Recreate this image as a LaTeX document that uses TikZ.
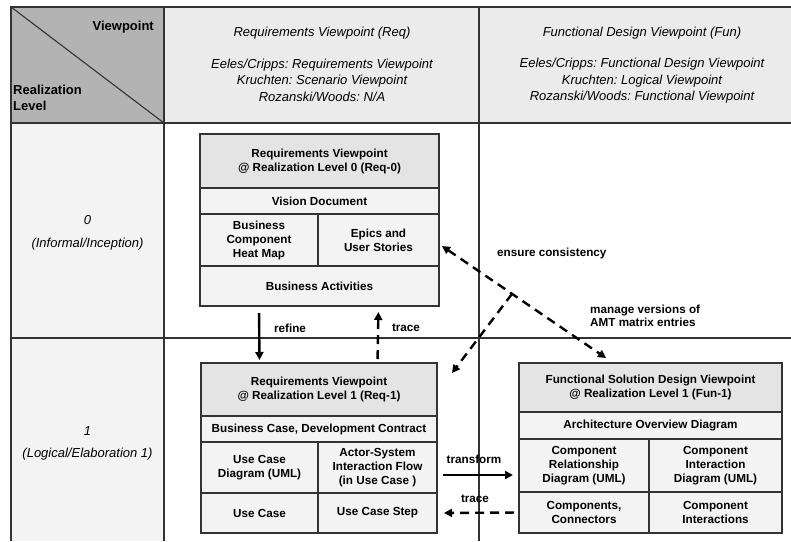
\documentclass[tikz,border=0pt]{standalone}
\usepackage{fontspec}
\setmainfont{Liberation Sans}
\usetikzlibrary{arrows.meta,calc}
\definecolor{linec}{HTML}{333333}
\definecolor{hdrdark}{HTML}{B3B3B3}
\definecolor{hdrlight}{HTML}{EBEBEB}
\definecolor{rowlbl}{HTML}{F3F3F3}
\definecolor{cellfill}{HTML}{F3F3F3}
\definecolor{titlefill}{HTML}{E4E4E4}
\newcommand\boxcell[7][]{%
  \node[cellbox,#1,minimum width={(#5-#3)*1pt},minimum height={(#6-#4)*1pt}]
    (#2) at ({(#3+#5)/2},{(#4+#6)/2}) {#7};}
\tikzset{
  cellbox/.style={draw=linec,line width=1.2pt,fill=cellfill,inner sep=0pt,outer sep=0pt,
    align=center,font=\frenchspacing\bfseries\fontsize{11.7}{14}\selectfont},
  titlecell/.style={fill=titlefill},
  grid/.style={draw=linec,line width=1.4pt},
  hdrtxt/.style={align=center,font=\frenchspacing\itshape\fontsize{13}{16.5}\selectfont,inner sep=0pt},
  hdrbold/.style={font=\bfseries\fontsize{13}{16.5}\selectfont,inner sep=0pt},
  lbl/.style={font=\bfseries\fontsize{11.7}{13.5}\selectfont,inner sep=0pt,align=left},
  tip/.style={-{Triangle[length=8pt,width=8pt]}},
  solidarrow/.style={line width=2.4pt,tip},
  dasharrow/.style={line width=2.4pt,dash pattern=on 9pt off 6pt,tip},
}
\begin{document}
\begin{tikzpicture}[x=1pt,y=-1pt]
\useasboundingbox (0,0) rectangle (791,541);
% table backgrounds
\fill[hdrdark] (11,7) rectangle (164,123);
\fill[hdrlight] (164,7) rectangle (791,123);
\fill[rowlbl] (11,123) rectangle (164,541);
\draw[linec,line width=1.1pt] (11,7) -- (164,123);
\draw[grid] (791,7) -- (11,7) -- (11,541);
\draw[grid] (11,123) -- (791,123);
\draw[grid] (11,338) -- (791,338);
\draw[grid] (164,7) -- (164,541);
\draw[grid] (479,7) -- (479,541);
% header texts
\node[hdrbold,anchor=east] (vp) at (154,27) {Viewpoint};
\node[hdrbold,anchor=west,align=left] (rl) at (13,98) {Realization\\Level};
\node[hdrtxt] (hreq1) at (322,33) {Requirements Viewpoint (Req)};
\node[hdrtxt] (hreq2) at (322,80) {Eeles/Cripps: Requirements Viewpoint\\Kruchten: Scenario Viewpoint\\Rozanski/Woods: N/A};
\node[hdrtxt] (hfun1) at (642,33) {Functional Design Viewpoint (Fun)};
\node[hdrtxt] (hfun2) at (642,81) {Eeles/Cripps: Functional Design Viewpoint\\Kruchten: Logical Viewpoint\\Rozanski/Woods: Functional Viewpoint};
\node[hdrtxt] (r0a) at (87.5,220) {0};
\node[hdrtxt] (r0b) at (87.5,244) {(Informal/Inception)};
\node[hdrtxt] (r1a) at (87.5,431) {1};
\node[hdrtxt] (r1b) at (87.5,454) {(Logical/Elaboration 1)};
% Req-0
\boxcell[titlecell]{t0}{200}{134}{439}{188}{Requirements Viewpoint\\@ Realization Level 0 (Req-0)}
\boxcell{vis}{200}{188}{439}{214}{Vision Document}
\boxcell{bchm}{200}{214}{318}{266}{Business\\Component\\Heat Map}
\boxcell{epics}{318}{214}{439}{266}{Epics and\\User Stories}
\boxcell{bact}{200}{266}{439}{306}{Business Activities}
% Req-1
\boxcell[titlecell]{t1}{201}{363}{437}{416}{Requirements Viewpoint\\@ Realization Level 1 (Req-1)}
\boxcell{bc}{201}{416}{437}{442}{Business Case, Development Contract}
\boxcell{ucd}{201}{442}{318}{493}{Use Case\\Diagram (UML)}
\boxcell{asif}{318}{442}{437}{493}{Actor-System\\Interaction Flow\\(in Use Case )}
\boxcell{uc}{201}{493}{318}{533}{Use Case}
\boxcell{ucs}{318}{493}{437}{533}{Use Case Step}
% Fun-1
\boxcell[titlecell]{ft}{519}{363}{782}{412}{Functional Solution Design Viewpoint\\@ Realization Level 1 (Fun-1)}
\boxcell{aod}{519}{412}{782}{439}{Architecture Overview Diagram}
\boxcell{crd}{519}{439}{649}{492}{Component\\Relationship\\Diagram (UML)}
\boxcell{cid}{649}{439}{782}{492}{Component\\Interaction\\Diagram (UML)}
\boxcell{cc}{519}{492}{649}{533}{Components,\\Connectors}
\boxcell{ci}{649}{492}{782}{533}{Component\\Interactions}
% arrows
\draw[solidarrow,shorten <=7pt,shorten >=3pt] (bact.south -| bchm.center) -- (t1.north -| ucd.center);
\draw[dasharrow,shorten <=4pt,shorten >=6pt] (t1.north -| asif.center) -- (bact.south -| epics.center);
\coordinate (ecA) at ([shift={(3,6)}]epics.east);
\coordinate (ecB) at ([shift={(-44.5,-5)}]ft.north);
\draw[dasharrow,{Triangle[length=8pt,width=8pt]}-{Triangle[length=8pt,width=8pt]}] (ecA) -- (ecB);
\coordinate (junc) at ($(ecA)!0.427!(ecB)$);
\coordinate (req1tip) at ([shift={(15,10)}]t1.north east);
\draw[dasharrow] (junc) -- (req1tip);
\draw[solidarrow] ([shift={(6,7.5)}]asif.east) -- ([shift={(-6,9.5)}]crd.west);
\draw[dasharrow,shorten <=5pt,shorten >=7pt] (cc.west) -- (ucs.east);
% labels
\node[lbl] (lrefine) at (290,328) {refine};
\node[lbl] (ltrace1) at (406,328) {trace};
\node[lbl] (ltransform) at (474,459) {transform};
\node[lbl] (ltrace2) at (475,499) {trace};
\node[lbl,anchor=west] (lensure) at (497,253) {ensure consistency};
\node[lbl,anchor=west] (lmanage) at (590,316) {manage versions of\\AMT matrix entries};
\end{tikzpicture}
\end{document}
